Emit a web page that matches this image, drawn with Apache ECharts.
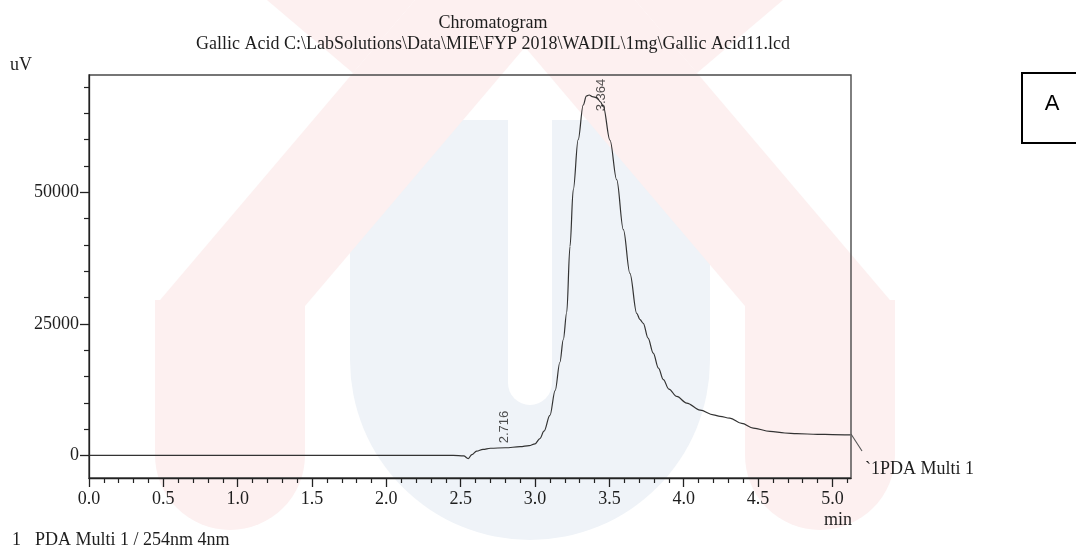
<!DOCTYPE html>
<html>
<head>
<meta charset="utf-8">
<script src="https://cdn.jsdelivr.net/npm/echarts@6/dist/echarts.min.js"></script>
<style>
html,body{margin:0;padding:0;background:#fff;}
#chart{width:1076px;height:547px;}
</style>
</head>
<body>
<div id="chart"></div>
<script>
// ---- data ----
const times  = [0, 0.5, 1.0, 1.5, 2.0, 2.2, 2.45, 2.52, 2.551, 2.575, 2.607, 2.65, 2.70, 2.80, 2.90, 2.96, 3.00, 3.033, 3.06, 3.10, 3.135, 3.167, 3.19, 3.213, 3.235, 3.257, 3.29, 3.324, 3.345, 3.364, 3.385, 3.415, 3.44, 3.459, 3.504, 3.549, 3.594, 3.638, 3.684, 3.706, 3.728, 3.76, 3.795, 3.83, 3.863, 3.90, 3.953, 4.02, 4.11, 4.20, 4.244, 4.31, 4.39, 4.468, 4.58, 4.68, 4.76, 4.90, 5.00, 5.12];
const signal = [0, 0, 0, 0, 0, 0, 0, -100, -600, 150, 800, 1150, 1350, 1450, 1650, 1850, 2200, 3200, 4600, 7600, 12300, 17700, 22000, 27200, 39700, 50500, 60000, 66600, 68300, 68500, 68200, 68000, 67200, 66300, 59900, 52400, 42900, 34600, 27000, 25800, 25100, 22300, 19450, 16600, 14400, 12600, 11200, 9950, 8600, 7700, 7420, 7090, 6100, 5190, 4560, 4250, 4120, 4000, 3950, 3900];
const peakTimes   = [2.716, 3.364];
const peakHeights = [1400, 68500];
const peakLabels  = ['2.716', '3.364'];
const xMajorTicks = [0.0, 0.5, 1.0, 1.5, 2.0, 2.5, 3.0, 3.5, 4.0, 4.5, 5.0];
const xMinorTicks = [0.1,0.2,0.3,0.4,0.6,0.7,0.8,0.9,1.1,1.2,1.3,1.4,1.6,1.7,1.8,1.9,2.1,2.2,2.3,2.4,2.6,2.7,2.8,2.9,3.1,3.2,3.3,3.4,3.6,3.7,3.8,3.9,4.1,4.2,4.3,4.4,4.6,4.7,4.8,4.9,5.1];
const yMajorTicks = [0, 25000, 50000];
const yMinorTicks = [5000,10000,15000,20000,30000,35000,40000,45000,55000,60000,65000,70000];
const titleText = 'Chromatogram';
const subtitleText = 'Gallic Acid C:\\LabSolutions\\Data\\MIE\\FYP 2018\\WADIL\\1mg\\Gallic Acid11.lcd';
const yUnit = 'uV';
const xUnit = 'min';
const traceName = '`1PDA Multi 1';
const footerNum = '1';
const footerText = 'PDA Multi 1 / 254nm 4nm';
const panelLetter = 'A';

// ---- chart ----
const serif = '"Liberation Serif", "Times New Roman", serif';
const sans = '"Liberation Sans", Arial, sans-serif';
const textColor = '#1e1e1e';
const pink = '#fdf0f0';
const blue = '#eff3f8';

const chart = echarts.init(document.getElementById('chart'), null, {renderer: 'canvas'});

const lineData = times.map((t, i) => [t, signal[i]]);
const peakData = peakTimes.map((t, i) => ({
  value: [t, peakHeights[i]],
  label: {offset: i === 0 ? [21, 12] : [0, 12]}
}));

const axisFont = {fontFamily: serif, fontSize: 18, color: textColor};

const option = {
  backgroundColor: '#fff',
  animation: false,
  grid: {left: 89, top: 75, right: 225, bottom: 69, show: true, borderColor: '#4a4a4a', borderWidth: 1.4, backgroundColor: 'transparent', containLabel: false},
  xAxis: [{
    type: 'value', min: 0, max: 5.125, position: 'bottom',
    axisLine: {show: true, onZero: false, lineStyle: {color: '#222', width: 1.3}},
    axisTick: {show: true, customValues: xMajorTicks, length: 9, lineStyle: {color: '#222', width: 1.3}},
    axisLabel: {show: true, customValues: xMajorTicks, margin: 12, formatter: v => v.toFixed(1), ...axisFont},
    splitLine: {show: false}
  }, {
    type: 'value', min: 0, max: 5.125, position: 'bottom', offset: 0,
    axisLine: {show: false, onZero: false},
    axisTick: {show: true, customValues: xMinorTicks, length: 5, lineStyle: {color: '#222', width: 1.2}},
    axisLabel: {show: false},
    splitLine: {show: false}
  }],
  yAxis: [{
    type: 'value', min: -4300, max: 72300, position: 'left',
    axisLine: {show: true, onZero: false, lineStyle: {color: '#222', width: 1.3}},
    axisTick: {show: true, customValues: yMajorTicks, length: 9, lineStyle: {color: '#222', width: 1.3}},
    axisLabel: {show: true, customValues: yMajorTicks, margin: 10, formatter: v => String(v), ...axisFont},
    splitLine: {show: false}
  }, {
    type: 'value', min: -4300, max: 72300, position: 'left', offset: 0,
    axisLine: {show: false, onZero: false},
    axisTick: {show: true, customValues: yMinorTicks, length: 5, lineStyle: {color: '#222', width: 1.2}},
    axisLabel: {show: false},
    splitLine: {show: false}
  }],
  series: [{
    type: 'line', name: 'PDA Multi 1', data: lineData, xAxisIndex: 0, yAxisIndex: 0,
    showSymbol: false, smooth: 0.35, smoothMonotone: 'x',
    lineStyle: {color: '#333', width: 1.2}, z: 5
  }, {
    type: 'scatter', data: peakData, xAxisIndex: 0, yAxisIndex: 0, symbolSize: 0,
    label: {show: true, position: 'inside', rotate: 90, formatter: p => peakLabels[p.dataIndex],
      fontFamily: sans, fontSize: 13, color: '#222'}, z: 6
  }],
  graphic: [
    // faint background logo
    {type: 'rect', z: -20, silent: true, shape: {x: 350, y: 120, width: 360, height: 420, r: [0, 0, 180, 180]}, style: {fill: blue}},
    {type: 'rect', z: -19, silent: true, shape: {x: 508, y: 120, width: 44, height: 285, r: [0, 0, 22, 22]}, style: {fill: '#fff'}},
    {type: 'polygon', z: -18, silent: true, shape: {points: [[415, 0], [565, 0], [305, 306], [155, 306]]}, style: {fill: pink}},
    {type: 'polygon', z: -18, silent: true, shape: {points: [[485, 0], [635, 0], [895, 306], [745, 306]]}, style: {fill: pink}},
    {type: 'polygon', z: -18, silent: true, shape: {points: [[267, 0], [415, 0], [353, 73]]}, style: {fill: pink}},
    {type: 'polygon', z: -18, silent: true, shape: {points: [[783, 0], [635, 0], [697, 73]]}, style: {fill: pink}},
    {type: 'rect', z: -18, silent: true, shape: {x: 155, y: 300, width: 150, height: 230, r: [0, 0, 75, 75]}, style: {fill: pink}},
    {type: 'rect', z: -18, silent: true, shape: {x: 745, y: 300, width: 150, height: 230, r: [0, 0, 75, 75]}, style: {fill: pink}},
    // texts
    {type: 'text', z: 100, x: 493, y: 23, style: {text: titleText, font: '18px ' + serif, fill: textColor, textAlign: 'center', textVerticalAlign: 'middle'}},
    {type: 'text', z: 100, x: 493, y: 44, style: {text: subtitleText, font: '18px ' + serif, fill: textColor, textAlign: 'center', textVerticalAlign: 'middle'}},
    {type: 'text', z: 100, x: 10, y: 65, style: {text: yUnit, font: '18px ' + serif, fill: textColor, textAlign: 'left', textVerticalAlign: 'middle'}},
    {type: 'text', z: 100, x: 852, y: 520, style: {text: xUnit, font: '18px ' + serif, fill: textColor, textAlign: 'right', textVerticalAlign: 'middle'}},
    {type: 'line', z: 100, shape: {x1: 851, y1: 434, x2: 862, y2: 451}, style: {stroke: '#555', lineWidth: 1.1}},
    {type: 'text', z: 100, x: 865, y: 469, style: {text: traceName, font: '18px ' + serif, fill: textColor, textAlign: 'left', textVerticalAlign: 'middle'}},
    {type: 'text', z: 100, x: 12, y: 540, style: {text: footerNum, font: '18px ' + serif, fill: textColor, textAlign: 'left', textVerticalAlign: 'middle'}},
    {type: 'text', z: 100, x: 35, y: 540, style: {text: footerText, font: '18px ' + serif, fill: textColor, textAlign: 'left', textVerticalAlign: 'middle'}},
    {type: 'rect', z: 100, shape: {x: 1022, y: 73, width: 60, height: 70}, style: {fill: '#fff', stroke: '#000', lineWidth: 2}},
    {type: 'text', z: 101, x: 1052, y: 104, style: {text: panelLetter, font: '22px ' + sans, fill: '#000', textAlign: 'center', textVerticalAlign: 'middle'}}
  ]
};
chart.setOption(option);
</script>
</body>
</html>
